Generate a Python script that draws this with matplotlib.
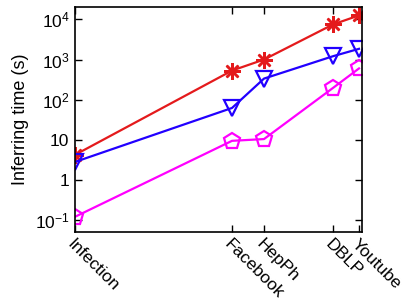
import matplotlib
matplotlib.use("Agg")
import matplotlib.pyplot as plt

# ── Data ─────────────────────────────────────────────────────────────────────
datasets  = ["Infection", "Facebook", "HepPh", "DBLP", "Youtube"]
x_pos     = [0, 157, 189, 258, 284]      # uneven spacing as in the original
red_vals  = [4.2, 530, 1000, 7500, 12600]
blue_vals = [2.8, 62, 335, 1210, 1850]
mag_vals  = [0.12, 9.4, 10.4, 196, 600]

y_ticks  = [0.1, 1, 10, 100, 1000, 10000]
y_labels = [r"$10^{-1}$", "1", "10", r"$10^2$", r"$10^3$", r"$10^4$"]

plt.rcParams["font.family"] = ["Liberation Sans", "DejaVu Sans"]
plt.rcParams["mathtext.fontset"] = "custom"
plt.rcParams["mathtext.rm"] = "Liberation Sans"
plt.rcParams["mathtext.it"] = "Liberation Sans"

fig = plt.figure(figsize=(4.09, 3.06), dpi=100)
ax = fig.add_axes([75 / 409, 1 - 232 / 306, 287 / 409, 225 / 306])

lw = 1.6
ax.plot(x_pos, red_vals, color="#e41a1c", lw=lw, marker=(8, 2, 0), ms=12, mew=1.8)
ax.plot(x_pos, blue_vals, color="#2200ff", lw=lw, marker="v", ms=11,
        mfc="none", mew=1.6)
ax.plot(x_pos, mag_vals, color="#ff00ff", lw=lw, marker="p", ms=12,
        mfc="none", mew=1.6)

ax.set_yscale("log")
ax.set_ylim(10 ** -1.3, 10 ** 4.31)
ax.set_xlim(0, 287)
ax.set_yticks(y_ticks)
ax.set_yticklabels(y_labels)
ax.minorticks_off()
ax.set_xticks(x_pos)
ax.set_xticklabels(datasets, rotation=-45, ha="left", va="top",
                   rotation_mode="anchor")
ax.tick_params(direction="in", top=True, right=True, length=5, width=1,
               labelsize=12.5, pad=4)
ax.tick_params(axis="x", pad=3)
for s in ax.spines.values():
    s.set_linewidth(1.2)
ax.set_ylabel("Inferring time (s)", fontsize=13, labelpad=4)

fig.savefig("out.png", dpi=100)
